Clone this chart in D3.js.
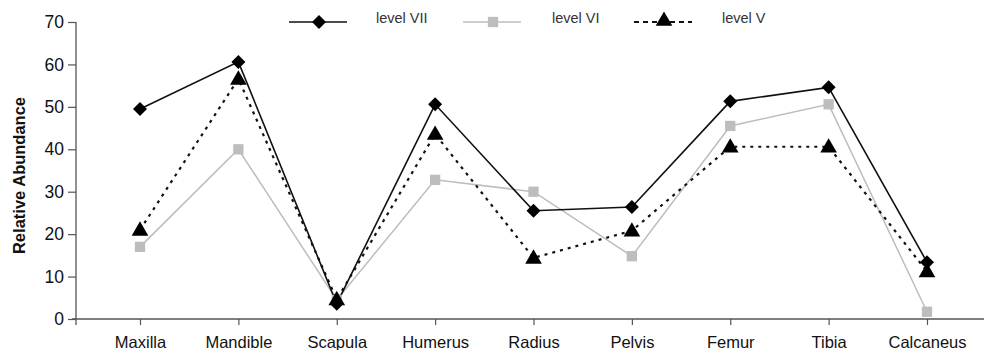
<!DOCTYPE html>
<html>
<head>
<meta charset="utf-8">
<script src="https://cdn.jsdelivr.net/npm/d3@7"></script>
<style>
  body { margin: 0; background: #fff; }
  svg text { font-family: "Liberation Sans", Arial, sans-serif; }
</style>
</head>
<body>
<svg id="chart" width="984" height="350"></svg>
<script>
// Skeletal elements along the x axis
const categories = ["Maxilla", "Mandible", "Scapula", "Humerus", "Radius", "Pelvis", "Femur", "Tibia", "Calcaneus"];
// Relative abundance per level
const levelVII = [49.5, 60.6, 3.6, 50.6, 25.5, 26.4, 51.3, 54.6, 13.4];
const levelVI  = [17.0, 40.0, 4.5, 32.8, 30.0, 14.8, 45.5, 50.6, 1.7];
const levelV   = [21.0, 56.6, 4.6, 43.6, 14.4, 20.8, 40.6, 40.6, 11.2];
const yTicks = [0, 10, 20, 30, 40, 50, 60, 70];

const series = [
  { name: "level VII", values: levelVII, stroke: "#111", width: 1.6, dash: null, legendDash: null, symbol: d3.symbolDiamond2, size: 125, fill: "#000" },
  { name: "level VI",  values: levelVI,  stroke: "#bdbdbd", width: 1.5, dash: null, legendDash: null, symbol: d3.symbolSquare2, size: 135, fill: "#bdbdbd" },
  { name: "level V",   values: levelV,   stroke: "#111", width: 2.2, dash: "3,5", legendDash: "5,4", symbol: d3.symbolTriangle, size: 120, fill: "#000" }
];

const svg = d3.select("#chart");
const axisX0 = 76, axisY0 = 319;

const x = d3.scalePoint().domain(categories).range([140, 927]);
const y = d3.scaleLinear().domain([0, 70]).range([axisY0, 22]);

// Y axis
const yAxis = svg.append("g")
  .attr("transform", `translate(${axisX0},0)`)
  .call(d3.axisLeft(y).tickValues(yTicks).tickSize(8).tickPadding(4));
yAxis.select(".domain").attr("d", `M0,${y(70)}V${axisY0 + 6}`).attr("stroke", "#555").attr("stroke-width", 1.3);
yAxis.selectAll(".tick line").attr("stroke", "#555").attr("stroke-width", 1.2);
yAxis.selectAll(".tick text").attr("font-size", 17.5).attr("fill", "#111");

// X axis
const xAxis = svg.append("g")
  .attr("transform", `translate(0,${axisY0})`)
  .call(d3.axisBottom(x).tickSize(6).tickPadding(11));
xAxis.select(".domain").attr("d", `M${axisX0 - 4},0H984`).attr("stroke", "#555").attr("stroke-width", 1.3);
xAxis.selectAll(".tick line").attr("stroke", "#555").attr("stroke-width", 1.2);
xAxis.selectAll(".tick text").attr("font-size", 16.5).attr("fill", "#111");

// Y axis title
svg.append("text")
  .attr("transform", `translate(25,${(y(70) + axisY0) / 2 + 5}) rotate(-90)`)
  .attr("text-anchor", "middle")
  .attr("font-size", 16.5)
  .attr("font-weight", "bold")
  .attr("fill", "#111")
  .text("Relative Abundance");

// Lines and markers, drawn level VI first so the black series sit on top
const drawOrder = [series[1], series[2], series[0]];
const line = d3.line().x((d, i) => x(categories[i])).y(d => y(d));

drawOrder.forEach(s => {
  svg.append("path")
    .datum(s.values)
    .attr("fill", "none")
    .attr("stroke", s.stroke)
    .attr("stroke-width", s.width)
    .attr("stroke-dasharray", s.dash)
    .attr("d", line);
});
drawOrder.forEach(s => {
  svg.append("g").selectAll("path")
    .data(s.values)
    .join("path")
    .attr("transform", (d, i) => `translate(${x(categories[i])},${y(d) + (s.symbol === d3.symbolTriangle ? 1 : 0)})`)
    .attr("d", d3.symbol().type(s.symbol).size(s.size))
    .attr("fill", s.fill);
});

// Legend
const legendX = [289, 463, 634];
const legendTextX = [376, 552, 722];
series.forEach((s, i) => {
  const g = svg.append("g");
  g.append("line")
    .attr("x1", legendX[i]).attr("x2", legendX[i] + 58)
    .attr("y1", 22).attr("y2", 22)
    .attr("stroke", s.stroke)
    .attr("stroke-width", s.width)
    .attr("stroke-dasharray", s.legendDash);
  g.append("path")
    .attr("transform", `translate(${legendX[i] + 30},${22 + (s.symbol === d3.symbolTriangle ? -1 : 0)})`)
    .attr("d", d3.symbol().type(s.symbol).size(s.size))
    .attr("fill", s.fill);
  g.append("text")
    .attr("x", legendTextX[i]).attr("y", 23)
    .attr("font-size", 14.5)
    .attr("fill", "#333")
    .text(s.name);
});
</script>
</body>
</html>
